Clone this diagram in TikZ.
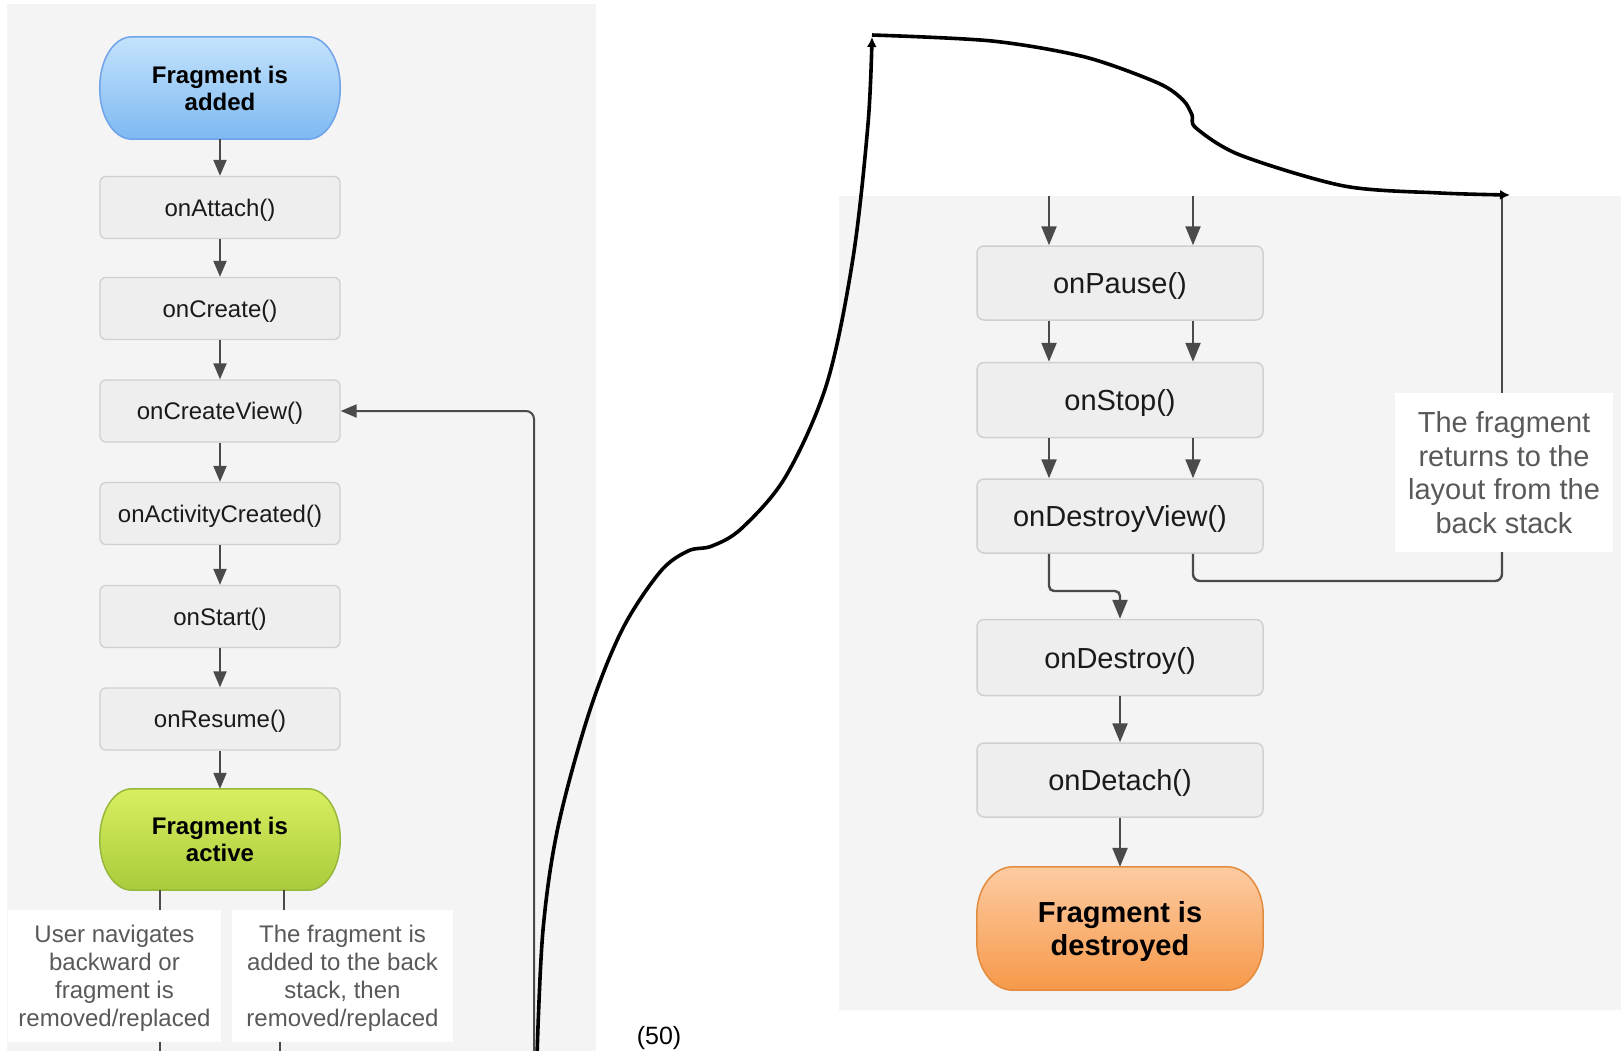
\documentclass[tikz,border=0pt]{standalone}
\usepackage{fontspec}
\setmainfont{Liberation Sans}
\usetikzlibrary{arrows.meta,calc}
\definecolor{panel}{HTML}{F4F4F4}
\definecolor{boxfill}{HTML}{EEEEEE}
\definecolor{boxline}{HTML}{D0D0D0}
\definecolor{arrowgray}{HTML}{4A4A4A}
\definecolor{txtdark}{HTML}{1A1A1A}
\definecolor{txtgray}{HTML}{595959}
\definecolor{bluetop}{HTML}{C4E3FC}
\definecolor{bluebot}{HTML}{7DB9F2}
\definecolor{blueline}{HTML}{6FA3EA}
\definecolor{greentop}{HTML}{D8EF60}
\definecolor{greenbot}{HTML}{A9CB3B}
\definecolor{greenline}{HTML}{97B83C}
\definecolor{orangetop}{HTML}{FDCBA2}
\definecolor{orangebot}{HTML}{F6994A}
\definecolor{orangeline}{HTML}{E38B3E}
\pgfdeclarelayer{back}
\pgfdeclarelayer{mid}
\pgfsetlayers{back,mid,main}
% #1 node, #2 rx, #3 ry, #4 style
\newcommand\drawpill[4]{\path[#4]
 ([xshift=#2pt]#1.north west) -- ([xshift=-#2pt]#1.north east)
 .. controls ([xshift=-0.4477*#2pt]#1.north east) and ([yshift=-0.4477*#3pt]#1.north east) .. ([yshift=-#3pt]#1.north east)
 -- ([yshift=#3pt]#1.south east)
 .. controls ([yshift=0.4477*#3pt]#1.south east) and ([xshift=-0.4477*#2pt]#1.south east) .. ([xshift=-#2pt]#1.south east)
 -- ([xshift=#2pt]#1.south west)
 .. controls ([xshift=0.4477*#2pt]#1.south west) and ([yshift=0.4477*#3pt]#1.south west) .. ([yshift=#3pt]#1.south west)
 -- ([yshift=-#3pt]#1.north west)
 .. controls ([yshift=-0.4477*#3pt]#1.north west) and ([xshift=0.4477*#2pt]#1.north west) .. ([xshift=#2pt]#1.north west) -- cycle;}
\begin{document}
\begin{tikzpicture}[x=1pt,y=-1pt,
  lbox/.style={rectangle, rounded corners=6pt, draw=boxline, line width=1.3pt, fill=boxfill,
    minimum width=240pt, minimum height=62pt, inner sep=0pt, text=txtdark, text depth=0pt,
    font=\fontsize{24}{28}\selectfont},
  rbox/.style={rectangle, rounded corners=7pt, draw=boxline, line width=1.5pt, fill=boxfill,
    minimum width=286pt, minimum height=74pt, inner sep=0pt, text=txtdark, text depth=0pt,
    font=\fontsize{29}{34}\selectfont},
  lpill/.style={minimum width=240pt, inner sep=0pt, align=center, text=black,
    font=\bfseries\fontsize{24}{27}\selectfont},
  rpill/.style={minimum width=286pt, inner sep=0pt, align=center, text=black, text depth=0pt,
    font=\bfseries\fontsize{29}{33}\selectfont},
  llabel/.style={rectangle, fill=white, inner sep=0pt, align=center, text=txtgray, text depth=0pt,
    minimum height=132pt, font=\fontsize{24}{28}\selectfont},
  rlabel/.style={rectangle, fill=white, inner sep=0pt, align=center, text=txtgray,
    minimum width=218pt, minimum height=159pt, font=\fontsize{29}{33.5}\selectfont},
  lflow/.style={draw=arrowgray, line width=2pt, -{Triangle[length=16pt,width=13pt]}},
  rflow/.style={draw=arrowgray, line width=2.4pt, -{Triangle[length=19pt,width=15pt]}},
  lline/.style={draw=arrowgray, line width=2pt},
  rline/.style={draw=arrowgray, line width=2.4pt},
  bcurve/.style={draw=black, line width=3.6pt, -{Latex[length=10pt,width=10pt]}}
]
\useasboundingbox (0,0) rectangle (1621,1050);
\clip (0,0) rectangle (1621,1050);
\begin{pgfonlayer}{back}
\fill[white] (0,0) rectangle (1621,1050);
\fill[panel] (7,4) rectangle (596,1055);
\fill[panel] (839,196) rectangle (1621,1010);
\end{pgfonlayer}

% ---------- left column ----------
\node[lpill, minimum height=102pt] (added) at (220,88) {Fragment is\\added};
\node[lbox] (attach) at (220,207.5) {onAttach()};
\node[lbox] (create) at (220,308.5) {onCreate()};
\node[lbox] (cview) at (220,411) {onCreateView()};
\node[lbox] (actc) at (220,513.5) {onActivityCreated()};
\node[lbox] (start) at (220,616.5) {onStart()};
\node[lbox] (resume) at (220,719) {onResume()};
\node[lpill, minimum height=101pt] (active) at (220,839.5) {Fragment is\\active};
\node[llabel, minimum width=213pt] (lab1) at (114.5,976) {User navigates\\backward or\\fragment is\\removed/replaced};
\node[llabel, minimum width=221pt] (lab2) at (342.5,976) {The fragment is\\added to the back\\stack, then\\removed/replaced};

\begin{pgfonlayer}{mid}
\drawpill{added}{32}{50}{draw=blueline, line width=1.5pt, top color=bluetop, bottom color=bluebot}
\drawpill{active}{32}{50}{draw=greenline, line width=1.5pt, top color=greentop, bottom color=greenbot}
\end{pgfonlayer}

\draw[lflow] (added) -- (attach);
\draw[lflow] (attach) -- (create);
\draw[lflow] (create) -- (cview);
\draw[lflow] (cview) -- (actc);
\draw[lflow] (actc) -- (start);
\draw[lflow] (start) -- (resume);
\draw[lflow] (resume) -- (active);

\draw[lline] ([xshift=-60pt]active.south) -- ([xshift=-60pt]active.south |- lab1.north);
\draw[lline] ([xshift=64pt]active.south) -- ([xshift=64pt]active.south |- lab2.north);
\coordinate (down1) at (160,1055);
\coordinate (down2) at (280,1055);
\draw[lline] (lab1.south -| down1) -- (down1);
\draw[lline] (lab2.south -| down2) -- (down2);

\coordinate (ret) at (534,1055);
\draw[lflow, rounded corners=8pt] (ret) |- (cview.east);

% ---------- right column ----------
\node[rbox] (pause) at (1120,283) {onPause()};
\node[rbox, minimum height=75pt] (stop) at (1120,400) {onStop()};
\node[rbox] (dview) at (1120,516) {onDestroyView()};
\node[rbox, minimum height=76pt] (destroy) at (1120,657.5) {onDestroy()};
\node[rbox] (detach) at (1120,780) {onDetach()};
\node[rpill, minimum height=123pt] (destroyed) at (1120,928.5) {Fragment is\\destroyed};
\node[rlabel] (lab3) at (1504,472.5) {The fragment\\returns to the\\layout from the\\back stack};

\begin{pgfonlayer}{mid}
\drawpill{destroyed}{36}{48}{draw=orangeline, line width=1.5pt, top color=orangetop, bottom color=orangebot}
\end{pgfonlayer}

\coordinate (t1) at (1049,196);
\coordinate (t2) at (1193,196);
\draw[rflow] (t1) -- (t1 |- pause.north);
\draw[rflow] (t2) -- (t2 |- pause.north);
\draw[rflow] (pause.south -| t1) -- (stop.north -| t1);
\draw[rflow] (pause.south -| t2) -- (stop.north -| t2);
\draw[rflow] (stop.south -| t1) -- (dview.north -| t1);
\draw[rflow] (stop.south -| t2) -- (dview.north -| t2);

\coordinate (k1) at (1120,591);
\draw[rflow, rounded corners=5pt] (dview.south -| t1) |- (k1) -- (destroy.north);
\coordinate (k2) at (1502,581);
\draw[rline, rounded corners=7pt] (dview.south -| t2) |- (k2) -- (lab3.south -| k2);
\coordinate (k3) at (1502,196);
\draw[rline] (lab3.north -| k3) -- (k3);

\draw[rflow] (destroy) -- (detach);
\draw[rflow] (detach) -- (destroyed);

% ---------- black hand-drawn curves ----------
\coordinate (bs) at (537,1056);
\coordinate (btop) at (872,37);
\coordinate (bstart2) at (872,35);
\coordinate (bend) at (1510,195);
\draw[bcurve] plot[smooth, tension=0.55] coordinates {(bs) (543,930) (558,827) (589,713) (622,630) (660,572) (688,551) (712,546) (742,528) (786,476) (827,383) (853,258) (868,124) (btop)};
\draw[bcurve] plot[smooth, tension=0.5] coordinates {(bstart2) (992,41) (1085,57) (1158,83) (1183,100) (1192,115) (1196,128) (1240,155) (1344,186) (1440,193) (bend)};

\node[anchor=base, inner sep=0pt, font=\fontsize{25}{30}\selectfont] (num) at (659,1044) {(50)};
\end{tikzpicture}
\end{document}
